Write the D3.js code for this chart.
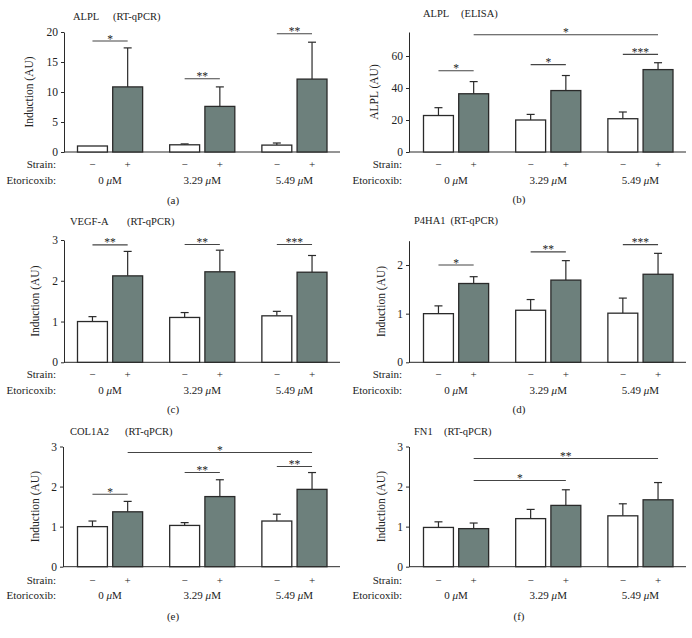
<!DOCTYPE html>
<html>
<head>
<meta charset="utf-8">
<script src="https://cdn.jsdelivr.net/npm/d3@7"></script>
<style>
  html, body { margin: 0; padding: 0; background: #fff; }
  svg { display: block; font-family: "Liberation Serif", "DejaVu Serif", serif; }
  text { font-family: "Liberation Serif", "DejaVu Serif", serif; fill: #222; }
</style>
</head>
<body>
<svg id="chart" width="692" height="638"></svg>
<script>
// ---------- data ----------
const concentrations = ["0", "3.29", "5.49"];
const concUnit = "μM";
const strainSigns = ["−", "+"];
const panelLetters = ["(a)", "(b)", "(c)", "(d)", "(e)", "(f)"];
const geneNames = ["ALPL", "ALPL", "VEGF-A", "P4HA1", "COL1A2", "FN1"];
const methodNames = ["(RT-qPCR)", "(ELISA)", "(RT-qPCR)", "(RT-qPCR)", "(RT-qPCR)", "(RT-qPCR)"];
const yTitles = ["Induction (AU)", "ALPL (AU)", "Induction (AU)", "Induction (AU)", "Induction (AU)", "Induction (AU)"];

const ticksA = [0, 5, 10, 15, 20];
const ticksB = [0, 20, 40, 60];
const ticksC = [0, 1, 2, 3];
const ticksD = [0, 1, 2];
const ticksE = [0, 1, 2, 3];
const ticksF = [0, 1, 2, 3];
const yMaxes = [20, 75, 3, 2.5, 3, 3];

// (a) ALPL RT-qPCR
const alplPcrCtrl = [1.0, 1.2, 1.15];
const alplPcrCtrlErr = [0, 0.15, 0.35];
const alplPcrStrain = [10.85, 7.6, 12.15];
const alplPcrStrainErr = [6.5, 3.25, 6.15];
// (b) ALPL ELISA
const alplElisaCtrl = [22.8, 20.0, 20.8];
const alplElisaCtrlErr = [4.9, 3.5, 4.2];
const alplElisaStrain = [36.4, 38.4, 51.5];
const alplElisaStrainErr = [7.6, 9.4, 4.3];
// (c) VEGF-A
const vegfCtrl = [1.0, 1.1, 1.14];
const vegfCtrlErr = [0.12, 0.12, 0.11];
const vegfStrain = [2.12, 2.22, 2.21];
const vegfStrainErr = [0.6, 0.53, 0.41];
// (d) P4HA1
const p4ha1Ctrl = [1.0, 1.07, 1.01];
const p4ha1CtrlErr = [0.16, 0.22, 0.31];
const p4ha1Strain = [1.62, 1.69, 1.81];
const p4ha1StrainErr = [0.14, 0.4, 0.43];
// (e) COL1A2
const col1a2Ctrl = [1.0, 1.03, 1.14];
const col1a2CtrlErr = [0.14, 0.07, 0.17];
const col1a2Strain = [1.37, 1.75, 1.93];
const col1a2StrainErr = [0.26, 0.42, 0.42];
// (f) FN1
const fn1Ctrl = [0.98, 1.2, 1.27];
const fn1CtrlErr = [0.14, 0.23, 0.3];
const fn1Strain = [0.95, 1.53, 1.67];
const fn1StrainErr = [0.14, 0.39, 0.43];

// significance: [group, strain] from -> to, level (data units), label
const sigA = [
  { from: [0, 0], to: [0, 1], level: 18.5, label: "*" },
  { from: [1, 0], to: [1, 1], level: 12.2, label: "**" },
  { from: [2, 0], to: [2, 1], level: 19.7, label: "**" }
];
const sigB = [
  { from: [0, 0], to: [0, 1], level: 50.8, label: "*" },
  { from: [1, 0], to: [1, 1], level: 54.6, label: "*" },
  { from: [2, 0], to: [2, 1], level: 61.0, label: "***" },
  { from: [0, 1], to: [2, 1], level: 73.3, label: "*" }
];
const sigC = [
  { from: [0, 0], to: [0, 1], level: 2.88, label: "**" },
  { from: [1, 0], to: [1, 1], level: 2.89, label: "**" },
  { from: [2, 0], to: [2, 1], level: 2.89, label: "***" }
];
const sigD = [
  { from: [0, 0], to: [0, 1], level: 2.0, label: "*" },
  { from: [1, 0], to: [1, 1], level: 2.27, label: "**" },
  { from: [2, 0], to: [2, 1], level: 2.42, label: "***" }
];
const sigE = [
  { from: [0, 0], to: [0, 1], level: 1.81, label: "*" },
  { from: [1, 0], to: [1, 1], level: 2.35, label: "**" },
  { from: [2, 0], to: [2, 1], level: 2.5, label: "**" },
  { from: [0, 1], to: [2, 1], level: 2.85, label: "*" }
];
const sigF = [
  { from: [0, 1], to: [1, 1], level: 2.15, label: "*" },
  { from: [0, 1], to: [2, 1], level: 2.7, label: "**" }
];

// ---------- panels (built from arrays) ----------
const panelData = [
  { ctrl: alplPcrCtrl, ctrlErr: alplPcrCtrlErr, strain: alplPcrStrain, strainErr: alplPcrStrainErr, ticks: ticksA, sig: sigA },
  { ctrl: alplElisaCtrl, ctrlErr: alplElisaCtrlErr, strain: alplElisaStrain, strainErr: alplElisaStrainErr, ticks: ticksB, sig: sigB },
  { ctrl: vegfCtrl, ctrlErr: vegfCtrlErr, strain: vegfStrain, strainErr: vegfStrainErr, ticks: ticksC, sig: sigC },
  { ctrl: p4ha1Ctrl, ctrlErr: p4ha1CtrlErr, strain: p4ha1Strain, strainErr: p4ha1StrainErr, ticks: ticksD, sig: sigD },
  { ctrl: col1a2Ctrl, ctrlErr: col1a2CtrlErr, strain: col1a2Strain, strainErr: col1a2StrainErr, ticks: ticksE, sig: sigE },
  { ctrl: fn1Ctrl, ctrlErr: fn1CtrlErr, strain: fn1Strain, strainErr: fn1StrainErr, ticks: ticksF, sig: sigF }
];

// layout (positions only)
const layout = [
  { ox: 0,   oy: 0,   axisX: 64, y0: 152,   yTop: 32,   titleY: 19.5, titleX1: 73, titleX2: 113, yTitleX: 29, strainY: 168, etorY: 184, capY: 204 },
  { ox: 346, oy: 0,   axisX: 63, y0: 152,   yTop: 32,   titleY: 16.5, titleX1: 77, titleX2: 115, yTitleX: 28, strainY: 168, etorY: 184, capY: 203 },
  { ox: 0,   oy: 210, axisX: 64, y0: 152.3, yTop: 30,   titleY: 15,   titleX1: 70, titleX2: 127, yTitleX: 35, strainY: 168, etorY: 184, capY: 203 },
  { ox: 346, oy: 210, axisX: 63, y0: 152.3, yTop: 30.7, titleY: 14,   titleX1: 68, titleX2: 98,  yTitleX: 35, strainY: 168, etorY: 184, capY: 203 },
  { ox: 0,   oy: 420, axisX: 63, y0: 146.7, yTop: 26.5, titleY: 15,   titleX1: 70, titleX2: 125, yTitleX: 35, strainY: 164, etorY: 178.5, capY: 200 },
  { ox: 346, oy: 420, axisX: 63, y0: 146.7, yTop: 26.5, titleY: 15,   titleX1: 68, titleX2: 98,  yTitleX: 35, strainY: 164, etorY: 178.5, capY: 200 }
];

const GRAY = "#6d807c";
const INK = "#2a2a2a";
const FS = 11;
const svg = d3.select("#chart");

panelData.forEach((pd, i) => {
  const L = layout[i];
  const g = svg.append("g").attr("transform", `translate(${L.ox},${L.oy})`);

  const y = d3.scaleLinear().domain([0, yMaxes[i]]).range([L.y0, L.yTop]);
  const x = d3.scaleBand().domain(concentrations).range([77.5, 327]).paddingInner(0.2935).paddingOuter(0);
  const xs = d3.scaleBand().domain([0, 1]).range([0, x.bandwidth()]).paddingInner(0.15).paddingOuter(0);
  const cx = (gi, si) => x(concentrations[gi]) + xs(si) + xs.bandwidth() / 2;

  // title
  const t1 = g.append("text").attr("x", L.titleX1).attr("y", L.titleY).attr("font-size", 10.5).text(geneNames[i]);
  const w1 = t1.node().getComputedTextLength();
  g.append("text").attr("x", Math.max(L.titleX2, L.titleX1 + w1 + 5)).attr("y", L.titleY).attr("font-size", 10.5).text(methodNames[i]);

  // y axis
  const ax = g.append("g").attr("transform", `translate(${L.axisX},0)`)
    .call(d3.axisLeft(y).tickValues(pd.ticks).tickFormat(d3.format("d")).tickSize(3).tickSizeOuter(0).tickPadding(3));
  ax.attr("font-family", null);
  ax.select(".domain").attr("stroke", INK).attr("stroke-width", 1);
  ax.selectAll(".tick line").attr("stroke", INK);
  ax.selectAll(".tick text").attr("font-size", 11.5).attr("fill", "#222");

  // baseline
  g.append("line").attr("x1", L.axisX).attr("x2", 340).attr("y1", L.y0).attr("y2", L.y0)
    .attr("stroke", INK).attr("stroke-width", 1);

  // y title
  g.append("text").attr("transform", `translate(${L.yTitleX},${(L.y0 + L.yTop) / 2}) rotate(-90)`)
    .attr("text-anchor", "middle").attr("dy", "0.35em").attr("font-size", 11.5).text(yTitles[i]);

  // bars
  const series = [
    { vals: pd.ctrl, errs: pd.ctrlErr, fill: "#ffffff", s: 0 },
    { vals: pd.strain, errs: pd.strainErr, fill: GRAY, s: 1 }
  ];
  series.forEach(se => {
    se.vals.forEach((v, gi) => {
      const e = se.errs[gi];
      if (e > 0) {
        const xc = cx(gi, se.s);
        g.append("line").attr("x1", xc).attr("x2", xc).attr("y1", y(v)).attr("y2", y(v + e))
          .attr("stroke", INK).attr("stroke-width", 1.2);
        g.append("line").attr("x1", xc - 4).attr("x2", xc + 4).attr("y1", y(v + e)).attr("y2", y(v + e))
          .attr("stroke", INK).attr("stroke-width", 1.2);
      }
    });
    g.selectAll(null).data(se.vals).enter().append("rect")
      .attr("x", (v, gi) => x(concentrations[gi]) + xs(se.s))
      .attr("y", v => y(v))
      .attr("width", xs.bandwidth())
      .attr("height", v => y(0) - y(v))
      .attr("fill", se.fill)
      .attr("stroke", INK).attr("stroke-width", 1.3);
  });

  // significance
  pd.sig.forEach(sg => {
    const x1 = cx(sg.from[0], sg.from[1]);
    const x2 = cx(sg.to[0], sg.to[1]);
    const yy = y(sg.level);
    g.append("line").attr("x1", x1).attr("x2", x2).attr("y1", yy).attr("y2", yy)
      .attr("stroke", "#444").attr("stroke-width", 1.1);
    g.append("text").attr("x", (x1 + x2) / 2).attr("y", yy + 1.5).attr("text-anchor", "middle")
      .attr("font-size", 11.5).attr("fill", "#555").text(sg.label);
  });

  // row labels
  g.append("text").attr("x", 56).attr("y", L.strainY).attr("text-anchor", "end").attr("font-size", FS).text("Strain:");
  g.append("text").attr("x", 56).attr("y", L.etorY).attr("text-anchor", "end").attr("font-size", FS).text("Etoricoxib:");

  concentrations.forEach((c, gi) => {
    [0, 1].forEach(si => {
      g.append("text").attr("x", cx(gi, si)).attr("y", L.strainY).attr("text-anchor", "middle")
        .attr("font-size", FS).text(strainSigns[si]);
    });
    const t = g.append("text").attr("x", x(c) + x.bandwidth() / 2).attr("y", L.etorY)
      .attr("text-anchor", "middle").attr("font-size", FS);
    t.append("tspan").text(c + " ");
    t.append("tspan").attr("font-style", "italic").text(concUnit.charAt(0));
    t.append("tspan").text(concUnit.slice(1));
  });

  // caption
  g.append("text").attr("x", 173).attr("y", L.capY).attr("text-anchor", "middle").attr("font-size", FS).text(panelLetters[i]);
});
</script>
</body>
</html>
